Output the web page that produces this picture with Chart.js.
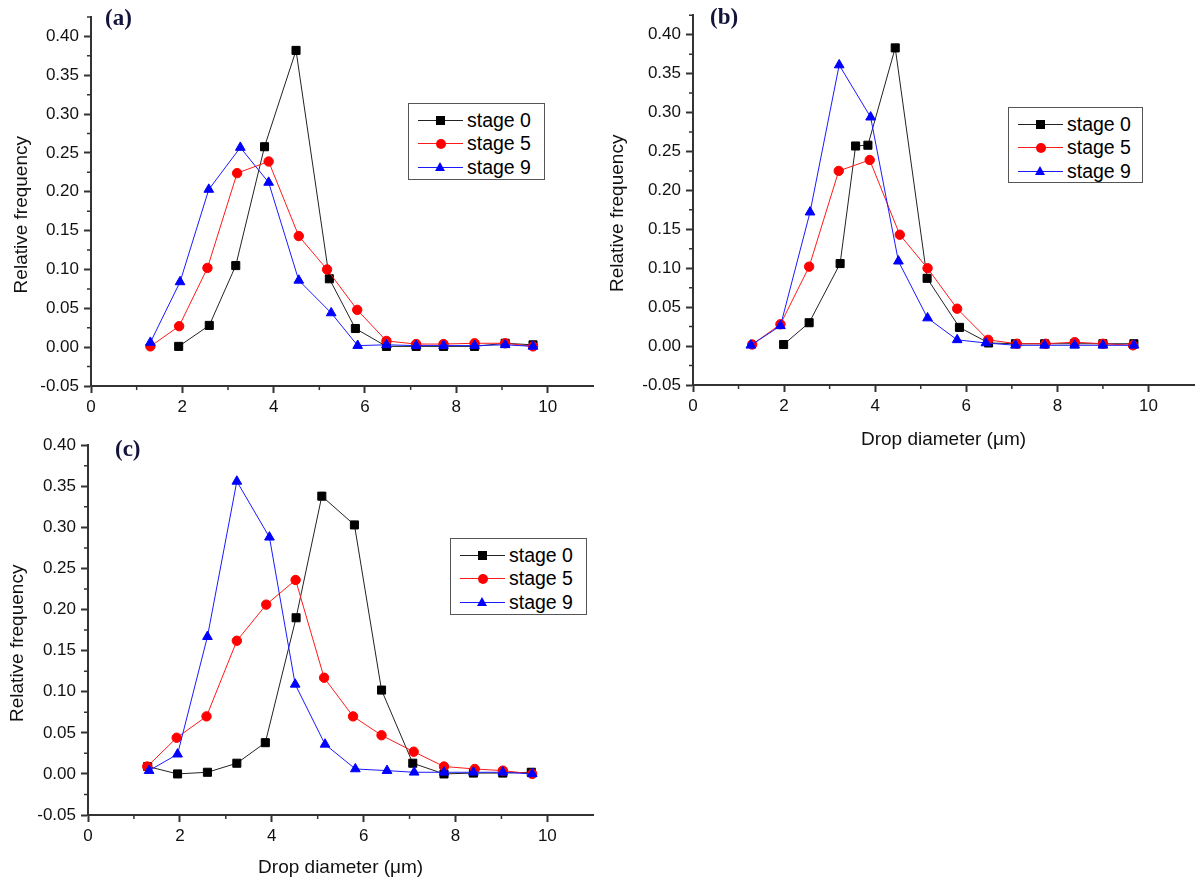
<!DOCTYPE html>
<html>
<head>
<meta charset="utf-8">
<title>Drop size distribution</title>
<script src="https://cdn.jsdelivr.net/npm/chart.js@4.4.1/dist/chart.umd.min.js"></script>
<style>
body{margin:0;background:#fff;width:1203px;height:882px;position:relative;overflow:hidden;font-family:Arial,"Liberation Sans",sans-serif;}
canvas{position:absolute;}
.tag{position:absolute;font:bold 23px "Liberation Serif","Times New Roman",serif;color:#14143a;line-height:1;}
.legend{position:absolute;border:1.5px solid #555;background:#fff;box-sizing:border-box;}
.legend .row{position:absolute;left:0;right:0;height:24px;}
.legend .line{position:absolute;left:9px;width:45px;top:12px;height:1px;}
.legend .mark{position:absolute;}
.legend .txt{position:absolute;left:58px;top:0;line-height:24px;font-size:19.5px;color:#000;white-space:nowrap;}
</style>
</head>
<body>

<canvas id="chartA" width="600" height="430" style="left:0;top:0"></canvas>
<canvas id="chartB" width="603" height="460" style="left:600px;top:0"></canvas>
<canvas id="chartC" width="600" height="452" style="left:0;top:430px"></canvas>

<div class="tag" style="left:105px;top:6px">(a)</div>
<div class="tag" style="left:710px;top:5px">(b)</div>
<div class="tag" style="left:115px;top:437px">(c)</div>

<div class="legend" id="legendA" style="left:408px;top:103px;width:137px;height:77px"></div>
<div class="legend" id="legendB" style="left:1008px;top:107px;width:135px;height:76px"></div>
<div class="legend" id="legendC" style="left:450px;top:538px;width:137px;height:77px"></div>

<script>
// ---------- data ----------
const seriesLabels = ['stage 0', 'stage 5', 'stage 9'];
const yTitle = 'Relative frequency';
const xTitle = 'Drop diameter (\u03bcm)';

const xTicks = [0, 2, 4, 6, 8, 10];
const xMinorTicks = [1, 3, 5, 7, 9];
const yTicks = [-0.05, 0.00, 0.05, 0.10, 0.15, 0.20, 0.25, 0.30, 0.35, 0.40];
const yMinorTicks = [-0.025, 0.025, 0.075, 0.125, 0.175, 0.225, 0.275, 0.325, 0.375, 0.425];

// panel (a)
const a0x = [1.92, 2.59, 3.17, 3.80, 4.49, 5.22, 5.79, 6.47, 7.12, 7.72, 8.40, 9.07, 9.68];
const a0y = [0.001, 0.028, 0.105, 0.258, 0.382, 0.088, 0.024, 0.001, 0.001, 0.001, 0.001, 0.005, 0.003];
const a5x = [1.30, 1.93, 2.55, 3.20, 3.89, 4.55, 5.17, 5.83, 6.47, 7.12, 7.72, 8.40, 9.07, 9.68];
const a5y = [0.001, 0.027, 0.102, 0.224, 0.239, 0.143, 0.100, 0.048, 0.008, 0.004, 0.004, 0.005, 0.005, 0.001];
const a9x = [1.30, 1.95, 2.58, 3.27, 3.89, 4.55, 5.26, 5.84, 6.47, 7.12, 7.72, 8.40, 9.07, 9.68];
const a9y = [0.006, 0.084, 0.203, 0.257, 0.212, 0.086, 0.044, 0.002, 0.003, 0.002, 0.002, 0.002, 0.003, 0.001];

// panel (b)
const b0x = [1.99, 2.55, 3.23, 3.57, 3.84, 4.44, 5.14, 5.85, 6.49, 7.08, 7.72, 8.38, 9.00, 9.68];
const b0y = [0.002, 0.030, 0.106, 0.257, 0.258, 0.383, 0.087, 0.024, 0.004, 0.003, 0.003, 0.003, 0.003, 0.003];
const b5x = [1.30, 1.92, 2.55, 3.20, 3.88, 4.54, 5.15, 5.80, 6.48, 7.11, 7.74, 8.38, 9.00, 9.66];
const b5y = [0.002, 0.028, 0.102, 0.225, 0.239, 0.143, 0.100, 0.048, 0.008, 0.003, 0.003, 0.005, 0.003, 0.001];
const b9x = [1.27, 1.92, 2.57, 3.21, 3.90, 4.51, 5.15, 5.80, 6.43, 7.08, 7.72, 8.38, 9.00, 9.68];
const b9y = [0.001, 0.026, 0.172, 0.361, 0.294, 0.109, 0.036, 0.008, 0.004, 0.001, 0.001, 0.001, 0.001, 0.001];

// panel (c)
const c0x = [1.30, 1.95, 2.60, 3.24, 3.86, 4.53, 5.09, 5.80, 6.39, 7.07, 7.75, 8.39, 9.03, 9.65];
const c0y = [0.009, 0.000, 0.002, 0.013, 0.038, 0.190, 0.338, 0.303, 0.102, 0.013, 0.000, 0.001, 0.001, 0.002];
const c5x = [1.29, 1.93, 2.58, 3.24, 3.88, 4.52, 5.14, 5.77, 6.39, 7.09, 7.75, 8.42, 9.03, 9.67];
const c5y = [0.009, 0.044, 0.070, 0.162, 0.206, 0.236, 0.117, 0.070, 0.047, 0.027, 0.009, 0.006, 0.004, 0.000];
const c9x = [1.33, 1.95, 2.60, 3.24, 3.95, 4.51, 5.16, 5.82, 6.51, 7.10, 7.75, 8.39, 9.03, 9.67];
const c9y = [0.004, 0.024, 0.167, 0.356, 0.288, 0.109, 0.036, 0.006, 0.004, 0.002, 0.002, 0.002, 0.002, 0.000];

// ---------- styles ----------
const lineColors = ['#222', '#ff1a1a', '#1a1aff'];
const markColors = ['#000', '#ff0000', '#0000ff'];
const markStyles = ['rect', 'circle', 'triangle'];
const markRadius = [5.7, 4.7, 5.6];
const axisColor = '#333';

Chart.defaults.font.family = 'Arial, "Liberation Sans", sans-serif';
Chart.defaults.color = '#111';

function pts(xs, ys){
  return xs.map((x, i) => ({x: x, y: ys[i]}));
}

// short minor tick marks, drawn with the chart's own scales
const minorTicks = {
  id: 'minorTicks',
  afterDraw(chart){
    const {ctx, scales: {x, y}} = chart;
    ctx.save();
    ctx.strokeStyle = axisColor;
    ctx.lineWidth = 1.5;
    ctx.beginPath();
    xMinorTicks.forEach(v => {
      const px = x.getPixelForValue(v);
      ctx.moveTo(px, x.top);
      ctx.lineTo(px, x.top + 4);
    });
    yMinorTicks.forEach(v => {
      if (v > y.max + 1e-9) return;
      const py = y.getPixelForValue(v);
      ctx.moveTo(y.right, py);
      ctx.lineTo(y.right - 4, py);
    });
    ctx.stroke();
    ctx.restore();
  }
};

function makePanel(id, series, p){
  const datasets = series.map((s, i) => ({
    label: seriesLabels[i],
    data: pts(s[0], s[1]),
    borderColor: lineColors[i],
    borderWidth: 1,
    backgroundColor: markColors[i],
    pointBackgroundColor: markColors[i],
    pointBorderColor: markColors[i],
    pointBorderWidth: 1,
    pointStyle: markStyles[i],
    pointRadius: markRadius[i],
    tension: 0,
    order: series.length - i
  }));

  return new Chart(document.getElementById(id), {
    type: 'line',
    data: {datasets: datasets},
    plugins: [minorTicks],
    options: {
      responsive: false,
      animation: false,
      devicePixelRatio: 1,
      layout: {padding: p.pad},
      plugins: {legend: {display: false}, tooltip: {enabled: false}},
      scales: {
        x: {
          type: 'linear',
          min: 0,
          max: 11,
          afterBuildTicks: s => { s.ticks = xTicks.map(v => ({value: v})); },
          afterFit: s => { s.height = p.xHeight; },
          ticks: {font: {size: 17}, color: '#111', padding: 4, autoSkip: false, maxRotation: 0, callback: v => String(v)},
          grid: {drawOnChartArea: false, drawTicks: true, tickLength: 7, tickColor: axisColor, tickWidth: 2},
          border: {display: true, color: axisColor, width: 2},
          title: {display: p.xTitle, text: xTitle, font: {size: 19}, color: '#111', padding: {top: 0, bottom: p.xTitlePad}}
        },
        y: {
          min: -0.05,
          max: p.yMax,
          afterBuildTicks: s => { s.ticks = yTicks.map(v => ({value: v})); },
          afterFit: s => { s.width = p.yWidth; },
          ticks: {font: {size: 17}, color: '#111', padding: 5, autoSkip: false, callback: v => v.toFixed(2)},
          grid: {drawOnChartArea: false, drawTicks: true, tickLength: 7, tickColor: axisColor, tickWidth: 2},
          border: {display: true, color: axisColor, width: 2},
          // trailing spaces nudge the rotated title down a little, like the original
          title: {display: true, text: yTitle + '     ', font: {size: 19}, color: '#111', padding: {top: p.yTitlePad, bottom: 0}}
        }
      }
    }
  });
}

function buildLegend(elId, chart){
  const el = document.getElementById(elId);
  chart.data.datasets.forEach((ds, i) => {
    const row = document.createElement('div');
    row.className = 'row';
    row.style.top = (3.5 + i * 23.5) + 'px';

    const line = document.createElement('div');
    line.className = 'line';
    line.style.background = ds.borderColor;
    row.appendChild(line);

    const mark = document.createElement('div');
    mark.className = 'mark';
    if (ds.pointStyle === 'rect') {
      Object.assign(mark.style, {left: '27px', top: '8px', width: '9px', height: '9px', background: ds.pointBackgroundColor});
    } else if (ds.pointStyle === 'circle') {
      Object.assign(mark.style, {left: '26.5px', top: '7.5px', width: '10px', height: '10px', borderRadius: '50%', background: ds.pointBackgroundColor});
    } else {
      Object.assign(mark.style, {left: '26px', top: '7px', width: '0', height: '0',
        borderLeft: '5.5px solid transparent', borderRight: '5.5px solid transparent', borderBottom: '9px solid ' + ds.pointBackgroundColor});
    }
    row.appendChild(mark);

    const txt = document.createElement('div');
    txt.className = 'txt';
    txt.textContent = ds.label;
    row.appendChild(txt);

    el.appendChild(row);
  });
}

const chartA = makePanel('chartA', [[a0x, a0y], [a5x, a5y], [a9x, a9y]], {
  pad: {left: 0, top: 17, right: 4, bottom: 0},
  yWidth: 91, xHeight: 44, yMax: 0.425, yTitlePad: 10,
  xTitle: false, xTitlePad: 0
});

const chartB = makePanel('chartB', [[b0x, b0y], [b5x, b5y], [b9x, b9y]], {
  pad: {left: 0, top: 14, right: 9, bottom: 0},
  yWidth: 93, xHeight: 75, yMax: 0.425, yTitlePad: 6,
  xTitle: true, xTitlePad: 9
});

const chartC = makePanel('chartC', [[c0x, c0y], [c5x, c5y], [c9x, c9y]], {
  pad: {left: 0, top: 15, right: 4, bottom: 0},
  yWidth: 88, xHeight: 67, yMax: 0.40, yTitlePad: 6,
  xTitle: true, xTitlePad: 3
});

buildLegend('legendA', chartA);
buildLegend('legendB', chartB);
buildLegend('legendC', chartC);
</script>
</body>
</html>
